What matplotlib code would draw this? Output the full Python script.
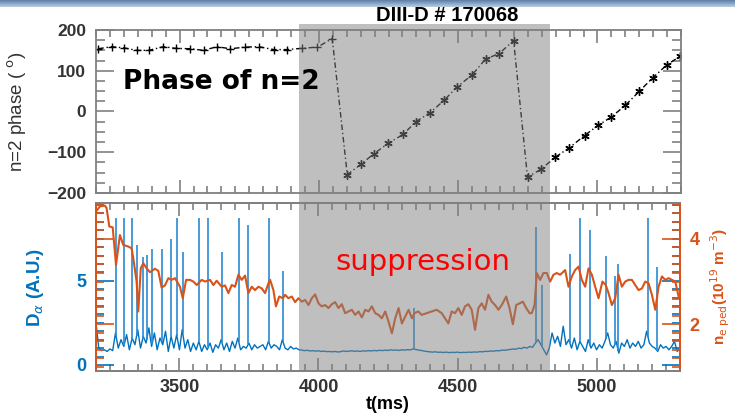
import matplotlib
matplotlib.use('Agg')
import matplotlib.pyplot as plt
import matplotlib.transforms as mtransforms
from matplotlib.patches import Rectangle
from matplotlib.ticker import MultipleLocator
import numpy as np

# n=2 phase (deg): '+' markers up to the first jump, '*' afterwards
phase_t1 = [3208, 3256, 3301, 3346, 3390, 3442, 3486, 3538, 3586, 3634,
            3682, 3736, 3784, 3838, 3886, 3940, 3995, 4048]
phase_v1 = [154, 159, 156, 150, 150, 159, 155, 154, 150, 159,
            154, 158, 159, 152, 152, 155, 158, 179]
phase_t2 = [4102, 4150, 4197, 4249, 4303, 4348, 4399, 4449, 4497, 4549,
            4599, 4647, 4699, 4749, 4797, 4849, 4899, 4954, 5002, 5049,
            5100, 5151, 5199, 5250, 5298]
phase_v2 = [-155, -130, -104, -78, -56, -25, -3, 27, 61, 89,
            129, 142, 174, -161, -142, -112, -89, -59, -34, -14,
            15, 50, 83, 115, 136]

# D-alpha baseline, one value every 10 ms from 3200 to 5300 ms
da_start, da_step = 3200, 10
da_base = [2.5, 1.0, 0.85, 0.9, 0.8, 0.95, 0.85, 1.9, 1.0, 1.5,
           1.1, 1.8, 0.9, 1.6, 1.2, 2.1, 1.0, 1.7, 1.3, 2.2,
           1.1, 1.9, 0.9, 1.6, 1.2, 2.0, 0.8, 1.7, 1.0, 1.8,
           0.9, 2.1, 1.0, 1.5, 0.8, 1.3, 0.9, 1.4, 0.8, 1.2,
           0.9, 1.3, 0.75, 1.2, 1.0, 1.5, 0.9, 1.3, 0.8, 1.4,
           1.0, 1.6, 0.9, 1.1, 1.0, 1.3, 0.9, 1.2, 1.0, 1.1,
           1.2, 0.9, 1.4, 1.0, 1.2, 1.1, 0.9, 1.5, 1.0, 0.9,
           1.1, 0.95, 1.0, 0.9,
           0.88, 0.85, 0.87, 0.83, 0.85, 0.82, 0.84, 0.8, 0.82, 0.79,
           0.8, 0.78, 0.8, 0.77, 0.79, 0.83, 0.8, 0.82, 0.84, 0.81,
           0.83, 0.8, 0.84, 0.82, 0.85, 0.83, 0.86, 0.84, 0.87, 0.85,
           0.88, 0.86, 0.9, 0.87, 0.89, 0.86, 0.9, 0.88, 0.91, 0.89,
           0.95, 0.92, 0.88, 0.86, 0.82, 0.8, 0.78, 0.76, 0.78, 0.75,
           0.76, 0.74, 0.76, 0.73, 0.75, 0.74, 0.76, 0.73, 0.75, 0.74,
           0.76, 0.75, 0.77, 0.76, 0.79, 0.78, 0.81, 0.8, 0.83, 0.82,
           0.85, 0.84, 0.88, 0.87, 0.9, 0.92, 0.95, 0.93, 1.0, 0.97,
           1.05, 1.0, 1.1, 1.05,
           1.3, 1.5, 1.2, 0.9, 0.6, 1.0,
           1.9, 1.3, 1.7, 1.1, 2.3, 1.2, 1.5, 1.0, 1.6, 0.9,
           1.4, 1.1, 0.8, 1.5, 1.0, 1.3, 0.9, 1.2, 1.0, 1.4,
           1.9, 1.2, 1.0, 1.4, 0.7, 1.3, 1.1, 1.5, 1.0, 1.3,
           1.1, 1.4, 1.0, 1.2, 2.0, 1.3, 1.1, 1.0, 0.8, 1.2,
           1.0, 1.1, 0.9, 1.1, 1.4, 0.8, 1.0]
# ELM spikes (time ms, peak A.U.)
elm_t = [3272, 3301, 3328, 3346, 3368, 3382, 3402, 3436, 3470, 3491,
         3512, 3570, 3604, 3652, 3713, 3748, 3823, 3872,
         4345, 4781, 4803,
         4904, 4939, 4977, 5033, 5065, 5078, 5185, 5218]
elm_h = [8.75, 8.75, 8.75, 7.1, 6.4, 6.55, 6.9, 6.9, 7.5, 8.75,
         6.7, 8.75, 8.75, 6.7, 8.75, 8.3, 8.75, 5.6,
         3.4, 8.2, 4.75,
         6.6, 8.75, 8.0, 6.5, 5.3, 6.0, 8.75, 5.8]

# pedestal density (1e19 m^-3)
ne_t = [3200, 3214, 3232, 3238, 3248, 3260, 3272, 3286, 3298, 3316,
        3328, 3334, 3346, 3352, 3361, 3370, 3382, 3394, 3412, 3424,
        3436, 3448, 3460, 3472, 3484, 3502, 3512, 3524, 3538, 3550,
        3562, 3580, 3592, 3610, 3622, 3634, 3652, 3664, 3676, 3688,
        3700, 3712, 3724, 3736, 3748, 3760, 3772, 3784, 3796, 3808,
        3820, 3826, 3838, 3847, 3859, 3872, 3880, 3892, 3904, 3916,
        3928, 3940, 3952, 3964, 3976, 3988, 4000, 4012, 4024, 4036,
        4048, 4060, 4072, 4084, 4096, 4108, 4120, 4132, 4144, 4156,
        4168, 4180, 4192, 4204, 4216, 4228, 4240, 4252, 4264, 4276,
        4288, 4300, 4312, 4324, 4336, 4345, 4359, 4371, 4389, 4407,
        4425, 4443, 4455, 4467, 4479, 4491, 4503, 4515, 4527, 4539,
        4551, 4563, 4575, 4587, 4599, 4611, 4623, 4635, 4647, 4659,
        4675, 4687, 4699, 4711, 4723, 4735, 4747, 4759, 4767, 4777,
        4785, 4797, 4809, 4821, 4833, 4845, 4857, 4869, 4887, 4899,
        4911, 4923, 4935, 4947, 4959, 4971, 4983, 4995, 5007, 5021,
        5033, 5043, 5055, 5067, 5079, 5091, 5103, 5115, 5127, 5139,
        5151, 5163, 5175, 5187, 5199, 5211, 5223, 5235, 5247, 5259,
        5271, 5283, 5295]
ne_v = [4.64, 4.76, 4.78, 4.72, 4.29, 4.27, 3.39, 4.09, 3.86, 3.82,
        3.78, 3.55, 3.00, 2.30, 3.31, 3.43, 3.31, 3.22, 3.30, 3.25,
        2.86, 2.91, 3.08, 3.04, 3.08, 2.88, 2.61, 3.04, 3.04, 3.00,
        2.92, 3.04, 3.00, 3.04, 2.92, 3.02, 2.88, 2.91, 2.73, 2.92,
        2.88, 3.16, 3.04, 3.14, 2.73, 2.88, 2.80, 2.88, 2.84, 2.73,
        2.96, 3.04, 2.80, 2.42, 2.65, 2.61, 2.69, 2.61, 2.65, 2.52,
        2.61, 2.53, 2.57, 2.45, 2.61, 2.70, 2.49, 2.42, 2.45, 2.38,
        2.47, 2.52, 2.38, 2.47, 2.26, 2.30, 2.34, 2.22, 2.30, 2.16,
        2.34, 2.30, 2.42, 2.26, 2.22, 2.14, 2.30, 2.06, 1.79, 2.14,
        2.38, 2.02, 2.18, 2.34, 2.14, 2.26, 2.30, 2.22, 2.26, 2.30,
        2.34, 2.26, 2.14, 2.02, 2.30, 2.26, 2.38, 2.22, 2.42, 2.47,
        2.34, 1.87, 2.38, 2.49, 2.34, 2.69, 2.53, 2.45, 2.34, 2.45,
        2.65, 2.38, 2.00, 2.45, 2.49, 2.53, 2.38, 2.26, 2.26, 2.45,
        3.20, 3.04, 3.20, 3.20, 3.00, 3.16, 3.20, 3.16, 3.27, 2.88,
        3.12, 3.27, 3.35, 3.04, 2.88, 3.31, 3.16, 2.88, 2.61, 3.00,
        2.92, 2.73, 2.45, 2.61, 3.16, 2.88, 3.00, 3.04, 3.04, 2.92,
        2.80, 2.84, 3.00, 2.96, 2.69, 2.34, 2.88, 3.12, 3.04, 3.08,
        3.04, 3.00, 2.65]

supp_window = (3930, 4828)

BLUE = '#0072BD'
ORANGE = '#D95319'
SPINE = '#808080'
TICKTXT = '#333333'
FONT = 'Liberation Sans'

plt.rcParams['font.family'] = FONT

fig = plt.figure(figsize=(7.35, 4.15), dpi=100)

# slide header bar
bar = fig.add_axes([0, 1 - 7 / 415, 1, 7 / 415])
grad = np.linspace(0, 1, 20).reshape(-1, 1)
bar.imshow(grad, aspect='auto', cmap=matplotlib.colors.LinearSegmentedColormap.from_list(
    'hdr', ['#5d7fa8', '#b9cce0']), extent=[0, 1, 0, 1])
bar.axis('off')

# ---- top panel: phase of n=2 ----
ax1 = fig.add_axes([96 / 735, 1 - 193 / 415, 585 / 735, 163 / 415])
ax1.plot(phase_t1 + phase_t2, phase_v1 + phase_v2, color='black', lw=1,
         linestyle=(0, (4, 2, 1, 2)))
ax1.plot(phase_t1, phase_v1, linestyle='none', marker='+', ms=6, mew=1,
         color='black')
ax1.plot(phase_t2, phase_v2, linestyle='none', marker=(6, 2, 0), ms=6,
         mew=1, color='black')
ax1.set_xlim(3200, 5300)
ax1.set_ylim(-200, 200)
ax1.xaxis.set_major_locator(MultipleLocator(500))
ax1.xaxis.set_minor_locator(MultipleLocator(50))
ax1.yaxis.set_major_locator(MultipleLocator(100))
ax1.yaxis.set_minor_locator(MultipleLocator(25))
ax1.tick_params(which='both', direction='in', top=True, right=True,
                color=SPINE, width=1.2, labelbottom=False)
ax1.tick_params(axis='x', which='major', length=9.5)
ax1.tick_params(axis='x', which='minor', length=5)
ax1.tick_params(axis='y', which='major', length=13, pad=7,
                labelsize=12.5, labelcolor=TICKTXT)
ax1.tick_params(axis='y', which='minor', length=6.5)
for lab in ax1.get_yticklabels():
    lab.set_fontweight('bold')
for s in ax1.spines.values():
    s.set_color(SPINE)
    s.set_linewidth(1.3)
ax1.set_ylabel('n=2 phase ( $^{\\mathrm{o}}$)', fontsize=13.5, color=TICKTXT)
ax1.yaxis.set_label_coords(-0.115, 0.5)
ax1.set_title('DIII-D # 170068', fontsize=14.5, fontweight='bold',
              x=0.6, y=1.005, color='black')

# ---- bottom panel: D-alpha and pedestal density ----
ax2 = fig.add_axes([96 / 735, 1 - 371 / 415, 584 / 735, 168 / 415])
da_t = np.arange(len(da_base)) * da_step + da_start
ax2.plot(da_t, da_base, color=BLUE, lw=1)
ax2.vlines(elm_t, np.interp(elm_t, da_t, da_base), elm_h,
           color='#2a8ad4', lw=1.2)
ax2.set_xlim(3200, 5300)
ax2.set_ylim(-0.36, 9.62)

ax3 = ax2.twinx()
ax3.plot(ne_t, ne_v, color=ORANGE, lw=1.5)
ax3.set_ylim(0.906, 4.84)

ax2.xaxis.set_major_locator(MultipleLocator(500))
ax2.xaxis.set_minor_locator(MultipleLocator(50))
ax2.tick_params(axis='x', which='both', direction='in', top=True,
                bottom=True, color=SPINE, width=1.2)
ax2.tick_params(axis='x', which='major', length=9.5, pad=6,
                labelsize=13, labelcolor=TICKTXT)
ax2.tick_params(axis='x', which='minor', length=5)
for lab in ax2.get_xticklabels():
    lab.set_fontweight('bold')

ax2.set_yticks([0, 5])
ax2.yaxis.set_minor_locator(MultipleLocator(0.5))
ax2.yaxis.set_ticks_position('both')
ax2.tick_params(axis='y', which='both', direction='in', color=BLUE,
                width=1.2, labelleft=True, labelright=False)
ax2.tick_params(axis='y', which='major', length=13, pad=7,
                labelsize=13, labelcolor=BLUE)
ax2.tick_params(axis='y', which='minor', length=6)
for lab in ax2.get_yticklabels():
    lab.set_fontweight('bold')

ax3.set_yticks([2, 4])
ax3.yaxis.set_minor_locator(MultipleLocator(0.2))
ax3.yaxis.set_ticks_position('both')
ax3.tick_params(axis='y', which='both', direction='in', color=ORANGE,
                width=1.2, labelleft=False, labelright=True)
ax3.tick_params(axis='y', which='major', length=13, pad=7,
                labelsize=13, labelcolor=ORANGE)
ax3.tick_params(axis='y', which='minor', length=6)
for lab in ax3.get_yticklabels():
    lab.set_fontweight('bold')

for a in (ax2, ax3):
    a.spines['top'].set_color(SPINE)
    a.spines['bottom'].set_color(SPINE)
    a.spines['left'].set_color(ORANGE)
    a.spines['right'].set_color(ORANGE)
    for s in a.spines.values():
        s.set_linewidth(1.3)

ax2.set_ylabel('D$_{\\alpha}$ (A.U.)', fontsize=13.5, color=BLUE,
               fontweight='bold')
ax2.yaxis.set_label_coords(-0.085, 0.5)
ax3.set_ylabel('n$_{\\mathrm{e\\ ped}}$(10$^{19}$ m$^{-3}$)', fontsize=11,
               color=ORANGE, fontweight='bold', rotation=90)
ax3.yaxis.set_label_coords(1.05, 0.5)
ax2.set_xlabel('t(ms)', fontsize=13, fontweight='bold', labelpad=0)

# gray overlay marking the ELM suppression window (spans both panels)
tr = mtransforms.blended_transform_factory(ax1.transData, fig.transFigure)
x0, x1 = supp_window
fig.add_artist(Rectangle((x0, 1 - 371 / 415), x1 - x0, (371 - 24) / 415,
                         transform=tr, facecolor='#808080', alpha=0.5,
                         edgecolor='none', zorder=5))

fig.text(0.215, 0.68, 'Phase of n=2', transform=ax1.transAxes, fontsize=19,
         fontweight='bold', color='black', ha='center', va='center',
         family='DejaVu Sans', zorder=6)
fig.text(0.56, 0.65, 'suppression', transform=ax2.transAxes, fontsize=21,
         color='red', ha='center', va='center', family='DejaVu Sans',
         zorder=6)

fig.savefig('out.png', dpi=100)
